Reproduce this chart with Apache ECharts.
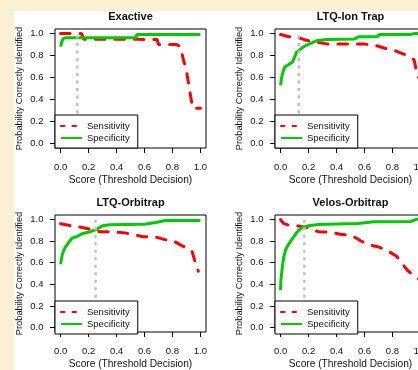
<!DOCTYPE html>
<html><head><meta charset="utf-8">
<script src="https://cdn.jsdelivr.net/npm/echarts@6/dist/echarts.min.js"></script>
<style>
html,body{margin:0;padding:0;overflow:hidden;background:#fcf0d4;width:418px;height:370px;}
#bg{position:absolute;left:14px;top:11px;width:430px;height:370px;background:#fff;}
#c{position:absolute;left:0;top:0;width:440px;height:370px;}
</style></head><body><div id="bg"></div><div id="c"></div>
<script>
// ---- data ----
const scoreTicks = [0, 0.2, 0.4, 0.6, 0.8, 1.0];
const scoreTickLabels = ['0.0', '0.2', '0.4', '0.6', '0.8', '1.0'];
const probTicks = [0, 0.2, 0.4, 0.6, 0.8, 1.0];
const probTickLabels = ['0.0', '0.2', '0.4', '0.6', '0.8', '1.0'];
const panelTitles = ['Exactive', 'LTQ-Ion Trap', 'LTQ-Orbitrap', 'Velos-Orbitrap'];
const thresholds = [0.12, 0.13, 0.25, 0.17];
const xName = 'Score (Threshold Decision)';
const yName = 'Probability Correctly Identified';
const legendNames = ['Sensitivity', 'Specificity'];

const exactiveSensitivity = [[0,1.0],[0.15,1.0],[0.16,0.99],[0.165,0.946],[0.55,0.946],[0.69,0.945],[0.70,0.90],[0.83,0.90],[0.855,0.88],[0.875,0.78],[0.9,0.66],[0.915,0.55],[0.93,0.43],[0.945,0.32],[1.0,0.32]];
const exactiveSpecificity = [[0,0.88],[0.01,0.93],[0.02,0.955],[0.04,0.96],[0.54,0.96],[0.545,0.99],[1.0,0.99]];

const ionTrapSensitivity = [[0,0.99],[0.06,0.97],[0.12,0.965],[0.155,0.95],[0.19,0.935],[0.26,0.92],[0.33,0.905],[0.59,0.905],[0.62,0.9],[0.67,0.895],[0.745,0.865],[0.815,0.845],[0.875,0.815],[0.925,0.79],[0.955,0.76],[0.965,0.7],[0.975,0.62],[1.0,0.58]];
const ionTrapSpecificity = [[0,0.53],[0.007,0.6],[0.02,0.66],[0.03,0.695],[0.05,0.71],[0.085,0.74],[0.1,0.785],[0.115,0.83],[0.145,0.86],[0.18,0.89],[0.215,0.91],[0.26,0.935],[0.33,0.945],[0.53,0.95],[0.56,0.97],[0.69,0.97],[0.71,0.99],[0.93,0.99],[0.96,1.0],[1.0,1.0]];

const orbitrapSensitivity = [[0,0.96],[0.075,0.94],[0.135,0.93],[0.19,0.915],[0.28,0.885],[0.37,0.885],[0.46,0.875],[0.52,0.86],[0.59,0.84],[0.67,0.84],[0.755,0.81],[0.815,0.795],[0.87,0.755],[0.915,0.735],[0.94,0.705],[0.957,0.63],[0.985,0.52]];
const orbitrapSpecificity = [[0,0.585],[0.012,0.675],[0.03,0.735],[0.055,0.78],[0.08,0.825],[0.115,0.84],[0.16,0.87],[0.21,0.885],[0.255,0.905],[0.3,0.94],[0.35,0.95],[0.6,0.955],[0.61,0.96],[0.68,0.97],[0.75,0.99],[1.0,0.99]];

const velosSensitivity = [[0,0.998],[0.02,0.962],[0.055,0.947],[0.126,0.938],[0.197,0.922],[0.27,0.886],[0.365,0.88],[0.425,0.862],[0.51,0.85],[0.575,0.80],[0.63,0.766],[0.7,0.745],[0.77,0.706],[0.83,0.66],[0.865,0.60],[0.91,0.525],[0.97,0.465],[1.0,0.44]];
const velosSpecificity = [[0,0.345],[0.002,0.435],[0.012,0.555],[0.022,0.645],[0.036,0.72],[0.055,0.765],[0.078,0.81],[0.103,0.855],[0.126,0.895],[0.15,0.92],[0.197,0.94],[0.27,0.953],[0.55,0.962],[0.67,0.977],[0.93,0.98],[0.97,1.0],[1.0,1.0]];

const sensitivitySets = [exactiveSensitivity, ionTrapSensitivity, orbitrapSensitivity, velosSensitivity];
const specificitySets = [exactiveSpecificity, ionTrapSpecificity, orbitrapSpecificity, velosSpecificity];

// ---- layout ----
const FONT = '"Liberation Sans", Arial, sans-serif';
const boxW = 151, boxH = 119;
const colX = [55, 275], rowY = [29, 215];
const lab = (ticks, labels) => v => { const k = ticks.findIndex(t => Math.abs(t - v) < 1e-9); return k >= 0 ? labels[k] : ''; };

const grid = [], xAxis = [], yAxis = [], series = [], title = [], legend = [];
panelTitles.forEach((name, i) => {
  const c = i % 2, r = Math.floor(i / 2);
  const L = colX[c], T = rowY[r];
  grid.push({left: L, top: T, width: boxW, height: boxH, show: true, borderColor: '#000', borderWidth: 1, backgroundColor: 'transparent'});
  xAxis.push({gridIndex: i, type: 'value', min: -0.04, max: 1.04,
    name: xName, nameLocation: 'middle', nameGap: 27,
    nameTextStyle: {fontSize: 10.2, fontFamily: FONT, color: '#111'},
    axisLine: {show: false, onZero: false},
    axisTick: {show: true, length: 5, customValues: scoreTicks, lineStyle: {color: '#000', width: 1}},
    axisLabel: {customValues: scoreTicks, formatter: lab(scoreTicks, scoreTickLabels), margin: 14, fontSize: 9.5, fontFamily: FONT, color: '#111'},
    splitLine: {show: false}});
  yAxis.push({gridIndex: i, type: 'value', min: -0.04, max: 1.04,
    name: yName, nameLocation: 'middle', nameGap: 31, nameRotate: 90,
    nameTextStyle: {fontSize: 9.3, fontFamily: FONT, color: '#111'},
    axisLine: {show: false, onZero: false},
    axisTick: {show: true, length: 5, customValues: probTicks, lineStyle: {color: '#000', width: 1}},
    axisLabel: {customValues: probTicks, formatter: lab(probTicks, probTickLabels), margin: 11.5, fontSize: 9.5, fontFamily: FONT, color: '#111'},
    splitLine: {show: false}});
  title.push({text: name, left: L + boxW / 2, top: T - 18, textAlign: 'center', padding: 0,
    textStyle: {fontSize: 11, fontWeight: 'bold', fontFamily: FONT, color: '#111'}});
  legend.push({orient: 'vertical', left: L, top: T + 86, padding: [6, 8, 5, 5],
    itemWidth: 21, itemHeight: 10, itemGap: 2, backgroundColor: '#fff', borderColor: '#000', borderWidth: 1, borderRadius: 0,
    selectedMode: false,
    data: [
      {name: legendNames[0], itemStyle: {opacity: 0}, lineStyle: {type: [3.5, 8]}},
      {name: legendNames[1], itemStyle: {opacity: 0}}
    ],
    textStyle: {fontSize: 9.5, fontFamily: FONT, color: '#111'}});
  series.push({type: 'line', name: legendNames[0], xAxisIndex: i, yAxisIndex: i, data: sensitivitySets[i],
    symbol: 'none', lineStyle: {color: '#ff0000', width: 3, type: [9.5, 10], cap: 'round'}, itemStyle: {color: '#ff0000'}, z: 2});
  series.push({type: 'line', name: legendNames[1], xAxisIndex: i, yAxisIndex: i, data: specificitySets[i],
    symbol: 'none', lineStyle: {color: '#00cd00', width: 3}, itemStyle: {color: '#00cd00'}, z: 2});
  series.push({type: 'line', name: 'Threshold', xAxisIndex: i, yAxisIndex: i, data: [[thresholds[i], 0], [thresholds[i], 1.0]],
    symbol: 'none', lineStyle: {color: '#c0c0c0', width: 2.5, type: [3, 4.5]}, itemStyle: {color: '#c0c0c0'}, z: 3});
});

const chart = echarts.init(document.getElementById('c'), null, {renderer: 'canvas'});
chart.setOption({animation: false, backgroundColor: 'transparent', grid, xAxis, yAxis, series, title, legend});
</script></body></html>
